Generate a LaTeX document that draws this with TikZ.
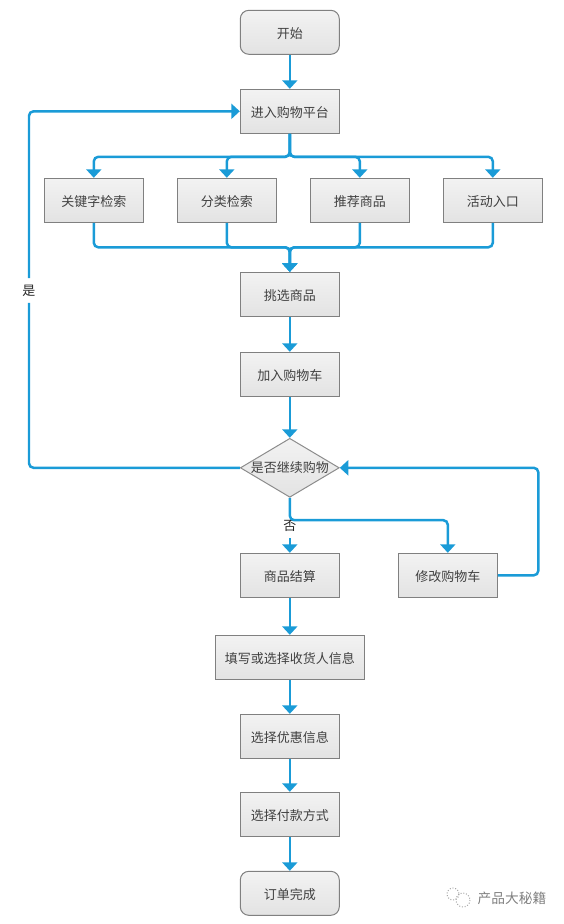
\documentclass[tikz,border=0pt]{standalone}
\usepackage{fontspec}
\setmainfont{Noto Sans CJK SC}
\usetikzlibrary{arrows.meta}
\usetikzlibrary{shapes.geometric}

\begin{document}
\begin{tikzpicture}[x=0.02cm, y=-0.02cm, font=\fontsize{7.4pt}{9pt}\selectfont, text=black!75,
        process/.style={rectangle, draw=black!50, line width=0.2mm, top color=black!5, bottom color=black!11, inner sep=0pt, minimum width=19.8mm, minimum height=8.8mm, text height=2.6mm, text depth=0.2mm, align=center},
        terminal/.style={process, rounded corners=1.7mm},
        decision/.style={diamond, draw=black!45, line width=0.2mm, top color=black!5, bottom color=black!11, inner sep=0pt, aspect=1.7, minimum width=19.8mm, minimum height=11.8mm},
        paths/.style={line width=0.5mm, draw=flowblue, rounded corners=0.9mm, -{Triangle[width=3mm, length=1.7mm]}},
        plain/.style={line width=0.5mm, draw=flowblue, rounded corners=0.9mm},
        answer/.style={inner xsep=1pt, inner ysep=3.6pt, text=black!85}
    ]
        \definecolor{flowblue}{HTML}{1A9BD7}
        \useasboundingbox (0,0) rectangle (564,924);

        % Nodes
        \node[terminal] (start) at (289.8,32.3) {开始};
        \node[process] (enter) at (289.8,111.3) {进入购物平台};

        \node[process] (keyword) at (93.8,200.3) {关键字检索};
        \node[process] (category) at (226.8,200.3) {分类检索};
        \node[process] (recommend) at (359.8,200.3) {推荐商品};
        \node[process] (activity) at (492.8,200.3) {活动入口};

        \node[process] (pick) at (289.8,294.3) {挑选商品};
        \node[process] (addcart) at (289.8,374.3) {加入购物车};
        \node[decision] (goon) at (289.8,467.8) {\makebox[0pt]{\raisebox{-0.2mm}{是否继续购物}}};

        \node[process] (settle) at (289.8,575.3) {商品结算};
        \node[process] (editcart) at (447.8,575.3) {修改购物车};
        \node[process, minimum width=29.8mm] (receiver) at (289.8,657.3) {填写或选择收货人信息};
        \node[process] (coupon) at (289.8,736.3) {选择优惠信息};
        \node[process] (payment) at (289.8,814.3) {选择付款方式};
        \node[terminal] (finish) at (289.8,893.3) {订单完成};

        \node[answer] (yes) at (29,290.5) {是};
        \node[answer] (no) at (289.8,526) {否};
        \coordinate (turn) at (538.3,467.8);

        % Paths: main flow
        \draw[paths] (start) -- (enter);
        \draw[paths] (pick) -- (addcart);
        \draw[paths] (addcart) -- (goon);
        \draw[paths] (settle) -- (receiver);
        \draw[paths] (receiver) -- (coupon);
        \draw[paths] (coupon) -- (payment);
        \draw[paths] (payment) -- (finish);

        % Paths: split and merge
        \draw[paths] (enter.south) -- ++(0,23) -| (keyword.north);
        \draw[paths] (enter.south) -- ++(0,23) -| (category.north);
        \draw[paths] (enter.south) -- ++(0,23) -| (recommend.north);
        \draw[paths] (enter.south) -- ++(0,23) -| (activity.north);

        \draw[paths] (keyword.south) -- ++(0,24.5) -| (pick.north);
        \draw[paths] (category.south) -- ++(0,24.5) -| (pick.north);
        \draw[paths] (recommend.south) -- ++(0,24.5) -| (pick.north);
        \draw[paths] (activity.south) -- ++(0,24.5) -| (pick.north);

        % Paths: decision
        \draw[plain] (goon.west) -| (yes.south);
        \draw[paths] (yes.north) |- (enter.west);
        \draw[plain] (goon.south) -- (no.north);
        \draw[paths] (no.south) -- (settle.north);
        \draw[paths] (goon.south) -- ++(0,22.4) -| (editcart.north);
        \draw[paths] (editcart.east) -| (turn) -- (goon.east);

        % Watermark
        \node[text=black!50, font=\fontsize{7.8pt}{9pt}\selectfont] (wechat) at (512,898) {产品大秘籍};
        \draw[black!35, densely dotted, line width=0.2mm] (453,894) circle [x radius=6, y radius=6];
        \draw[black!35, densely dotted, line width=0.2mm] (463,900) circle [x radius=7, y radius=7];
\end{tikzpicture}
\end{document}
